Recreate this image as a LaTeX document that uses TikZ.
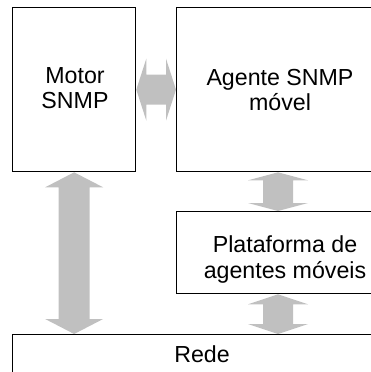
\documentclass[tikz,border=0pt]{standalone}
\usepackage{fontspec}
\setmainfont{Liberation Sans}
\usetikzlibrary{calc}
\definecolor{arrowgray}{RGB}{192,192,192}
% #1 from, #2 to, #3 shaft half width, #4 head half width, #5 head length
\newcommand\fatarrow[5]{%
  \fill[arrowgray] (#1)
    -- ($(#1)!#5!(#2)!#4!90:(#2)$) -- ($(#1)!#5!(#2)!#3!90:(#2)$)
    -- ($(#2)!#5!(#1)!#3!-90:(#1)$) -- ($(#2)!#5!(#1)!#4!-90:(#1)$)
    -- (#2)
    -- ($(#2)!#5!(#1)!#4!90:(#1)$) -- ($(#2)!#5!(#1)!#3!90:(#1)$)
    -- ($(#1)!#5!(#2)!#3!-90:(#2)$) -- ($(#1)!#5!(#2)!#4!-90:(#2)$)
    -- cycle;}
\begin{document}
\begin{tikzpicture}[x=1pt,y=-1pt,
  box/.style={draw=black,line width=1.3pt,inner sep=0pt,anchor=north west},
  lbl/.style={anchor=base,inner sep=0pt,font=\fontsize{23.2}{25.5}\selectfont}]
\useasboundingbox (0,0) rectangle (371,372);
\clip (0,0) rectangle (371,372);
\node[box,minimum width=123pt,minimum height=164pt] (motor) at (12,7) {};
\node[box,minimum width=210pt,minimum height=164pt] (agent) at (176,7) {};
\node[box,minimum width=218pt,minimum height=82pt] (plat) at (176,211) {};
\node[box,minimum width=380pt,minimum height=60pt] (rede) at (12,334) {};
\coordinate (m1) at (motor.south);
\coordinate (r1) at (motor.south |- rede.north);
\coordinate (ax) at (278,0);
\coordinate (a1) at (agent.south -| ax);
\coordinate (p1) at (plat.north -| ax);
\coordinate (p2) at (plat.south -| ax);
\coordinate (r2) at (rede.north -| ax);
\fatarrow{motor.east}{agent.west}{15pt}{31pt}{10pt}
\fatarrow{m1}{r1}{15.5pt}{29pt}{15pt}
\fatarrow{a1}{p1}{15pt}{30pt}{8pt}
\fatarrow{p2}{r2}{15pt}{30pt}{10pt}
\node[lbl] (tm1) at (75,83) {Motor};
\node[lbl] (tm2) at (75,108) {SNMP};
\node[lbl] (ta1) at (280,85) {Agente SNMP};
\node[lbl] (ta2) at (280,110) {móvel};
\node[lbl] (tp1) at (285,252) {Plataforma de};
\node[lbl] (tp2) at (285,278) {agentes móveis};
\node[lbl] (tr) at (202,362) {Rede};
\end{tikzpicture}
\end{document}
